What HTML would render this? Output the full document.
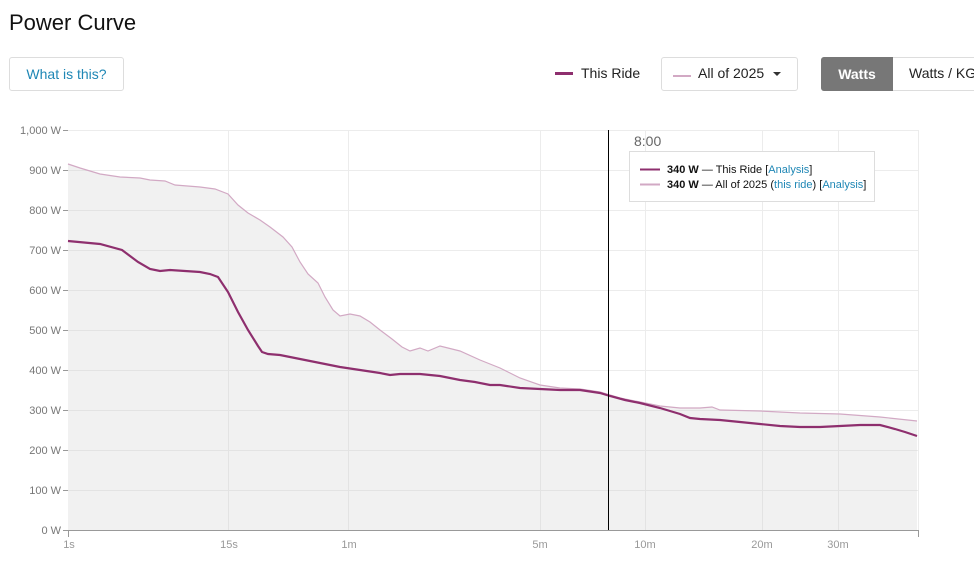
<!DOCTYPE html>
<html><head><style>
body{margin:0;width:974px;height:567px;overflow:hidden;background:#fff;font-family:"Liberation Sans",sans-serif;position:relative}
.a{position:absolute}
.btn{border:1px solid #ddd;border-radius:3px;box-sizing:border-box}
</style></head><body>
<div class="a" style="left:9px;top:10px;font-size:22px;color:#111">Power Curve</div>
<div class="a btn" style="left:9px;top:57px;width:115px;height:34px;color:#1f87b5;font-size:14px;line-height:32px;text-align:center">What is this?</div>
<div class="a" style="left:555px;top:72px;width:18px;height:3px;background:#8e2f6e"></div>
<div class="a" style="left:581px;top:65px;font-size:14px;color:#222">This Ride</div>
<div class="a btn" style="left:661px;top:57px;width:137px;height:34px"></div>
<div class="a" style="left:673px;top:75px;width:18px;height:2px;background:#d2a9c4"></div>
<div class="a" style="left:698px;top:65px;font-size:14px;color:#222">All of 2025</div>
<div class="a" style="left:773px;top:72px;width:0;height:0;border-left:4px solid transparent;border-right:4px solid transparent;border-top:4px solid #333"></div>
<div class="a btn" style="left:821px;top:57px;width:170px;height:34px"></div>
<div class="a" style="left:821px;top:57px;width:72px;height:34px;background:#777;border-radius:3px 0 0 3px;color:#fff;font-size:14px;font-weight:bold;line-height:34px;text-align:center">Watts</div>
<div class="a" style="left:909px;top:65px;font-size:14px;color:#222;white-space:nowrap">Watts / KG</div>
<svg class="a" style="left:0;top:0" width="974" height="567" font-family="Liberation Sans, sans-serif">
<rect x="68" y="130" width="850" height="400" fill="#fff"/>
<g stroke="#ececec" stroke-width="1">
<line x1="68" y1="130.5" x2="918" y2="130.5"/><line x1="68" y1="170.5" x2="918" y2="170.5"/><line x1="68" y1="210.5" x2="918" y2="210.5"/><line x1="68" y1="250.5" x2="918" y2="250.5"/><line x1="68" y1="290.5" x2="918" y2="290.5"/><line x1="68" y1="330.5" x2="918" y2="330.5"/><line x1="68" y1="370.5" x2="918" y2="370.5"/><line x1="68" y1="410.5" x2="918" y2="410.5"/><line x1="68" y1="450.5" x2="918" y2="450.5"/><line x1="68" y1="490.5" x2="918" y2="490.5"/>
<line x1="228.5" y1="130" x2="228.5" y2="530"/><line x1="348.5" y1="130" x2="348.5" y2="530"/><line x1="540.5" y1="130" x2="540.5" y2="530"/><line x1="645.5" y1="130" x2="645.5" y2="530"/><line x1="762.5" y1="130" x2="762.5" y2="530"/><line x1="838.5" y1="130" x2="838.5" y2="530"/><line x1="918.5" y1="130" x2="918.5" y2="530"/>
</g>
<path fill="rgba(200,200,200,0.25)" stroke="none" d="M68,164 L80,168 L100,174 L120,177 L140,178 L150,180 L165,181 L175,185 L200,187 L215,189 L228,194 L238,205 L248,213 L260,220 L270,227 L283,237 L292,247 L300,262 L308,274 L318,283 L325,297 L333,310 L340,316 L350,314 L360,316 L370,322 L380,330 L392,339 L402,347 L410,351 L420,348 L428,351 L440,346 L460,351 L480,360 L500,368 L520,378 L540,385 L560,388 L580,389 L600,392 L620,398 L640,402 L660,406 L680,408 L700,408 L712,407 L720,410 L760,411 L800,413 L840,414 L880,417 L917,421 L917,530 L68,530 Z"/>
<path fill="none" stroke="#d2a9c4" stroke-width="1.2" d="M68,164 L80,168 L100,174 L120,177 L140,178 L150,180 L165,181 L175,185 L200,187 L215,189 L228,194 L238,205 L248,213 L260,220 L270,227 L283,237 L292,247 L300,262 L308,274 L318,283 L325,297 L333,310 L340,316 L350,314 L360,316 L370,322 L380,330 L392,339 L402,347 L410,351 L420,348 L428,351 L440,346 L460,351 L480,360 L500,368 L520,378 L540,385 L560,388 L580,389 L600,392 L620,398 L640,402 L660,406 L680,408 L700,408 L712,407 L720,410 L760,411 L800,413 L840,414 L880,417 L917,421"/>
<path fill="none" stroke="#8e2f6e" stroke-width="2.2" d="M68,241 L100,244 L122,250 L138,262 L150,269 L160,271 L170,270 L185,271 L200,272 L210,274 L218,277 L228,292 L238,312 L248,330 L258,346 L262,352 L268,354 L280,355 L290,357 L300,359 L310,361 L320,363 L340,367 L360,370 L380,373 L390,375 L400,374 L420,374 L440,376 L460,380 L475,382 L490,385 L500,385 L520,388 L540,389 L560,390 L580,390 L600,393 L610,396 L625,400 L640,403 L660,408 L680,414 L690,418 L700,419 L720,420 L740,422 L760,424 L780,426 L800,427 L820,427 L840,426 L860,425 L880,425 L895,429 L905,432 L917,436"/>
<line x1="608.5" y1="130" x2="608.5" y2="530" stroke="#000"/>
<line x1="68" y1="530.5" x2="918" y2="530.5" stroke="#999"/>
<line x1="68.5" y1="530" x2="68.5" y2="537" stroke="#999"/><line x1="918.5" y1="530" x2="918.5" y2="537" stroke="#999"/>
<g stroke="#999"><line x1="63" y1="130.5" x2="68" y2="130.5"/><line x1="63" y1="170.5" x2="68" y2="170.5"/><line x1="63" y1="210.5" x2="68" y2="210.5"/><line x1="63" y1="250.5" x2="68" y2="250.5"/><line x1="63" y1="290.5" x2="68" y2="290.5"/><line x1="63" y1="330.5" x2="68" y2="330.5"/><line x1="63" y1="370.5" x2="68" y2="370.5"/><line x1="63" y1="410.5" x2="68" y2="410.5"/><line x1="63" y1="450.5" x2="68" y2="450.5"/><line x1="63" y1="490.5" x2="68" y2="490.5"/><line x1="63" y1="530.5" x2="68" y2="530.5"/></g>
<g font-size="11" fill="#777" text-anchor="end">
<text x="61" y="134">1,000 W</text><text x="61" y="174">900 W</text><text x="61" y="214">800 W</text><text x="61" y="254">700 W</text><text x="61" y="294">600 W</text><text x="61" y="334">500 W</text><text x="61" y="374">400 W</text><text x="61" y="414">300 W</text><text x="61" y="454">200 W</text><text x="61" y="494">100 W</text><text x="61" y="534">0 W</text>
</g>
<g font-size="11" fill="#999" text-anchor="middle">
<text x="69" y="548">1s</text><text x="229" y="548">15s</text><text x="349" y="548">1m</text><text x="540" y="548">5m</text><text x="645" y="548">10m</text><text x="762" y="548">20m</text><text x="838" y="548">30m</text>
</g>
<text x="634" y="146" font-size="14" fill="#666">8:00</text>
<rect x="629.5" y="151.5" width="245" height="50" fill="#fff" stroke="#ddd"/>
<line x1="640" y1="169.5" x2="660" y2="169.5" stroke="#8e2f6e" stroke-width="2"/>
<line x1="640" y1="184.5" x2="660" y2="184.5" stroke="#d2a9c4" stroke-width="2"/>
<text x="667" y="173" font-size="11" fill="#111"><tspan font-weight="bold">340 W</tspan> — This Ride [<tspan fill="#1f87b5">Analysis</tspan>]</text>
<text x="667" y="188" font-size="11" fill="#111"><tspan font-weight="bold">340 W</tspan> — All of 2025 (<tspan fill="#1f87b5">this ride</tspan>) [<tspan fill="#1f87b5">Analysis</tspan>]</text>
</svg>
</body></html>
